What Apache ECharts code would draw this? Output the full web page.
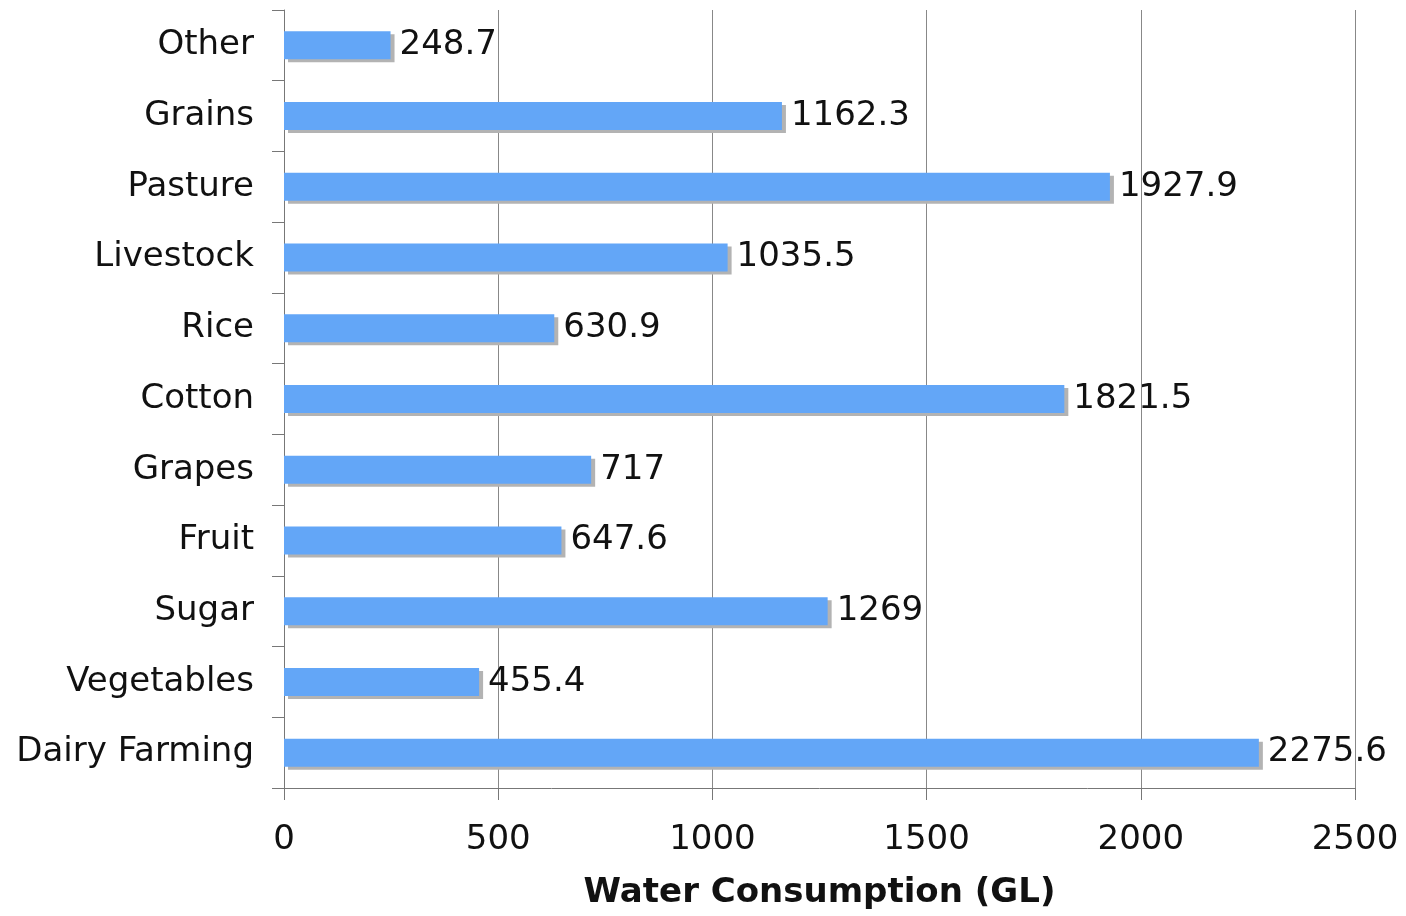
<!DOCTYPE html>
<html>
<head>
<meta charset="utf-8">
<script src="https://cdn.jsdelivr.net/npm/echarts@6/dist/echarts.min.js"></script>
<style>
  html, body { margin: 0; padding: 0; background: #fff; }
  #main { width: 1406px; height: 916px; }
</style>
</head>
<body>
<div id="main"></div>
<script>
// categories listed bottom to top (category y axis starts at the bottom)
var categories = ['Dairy Farming', 'Vegetables', 'Sugar', 'Fruit', 'Grapes', 'Cotton',
    'Rice', 'Livestock', 'Pasture', 'Grains', 'Other'];
var consumption = [2275.6, 455.4, 1269, 647.6, 717, 1821.5, 630.9, 1035.5, 1927.9, 1162.3, 248.7];
var xTicks = [0, 500, 1000, 1500, 2000, 2500];

var myChart = echarts.init(document.getElementById('main'));

var font = 'DejaVu Sans';

var option = {
    backgroundColor: '#ffffff',
    animation: false,
    grid: {
        left: 284,
        right: 51,
        top: 10,
        bottom: 128,
        containLabel: false,
        outerBoundsMode: 'none'
    },
    xAxis: {
        type: 'value',
        min: xTicks[0],
        max: xTicks[xTicks.length - 1],
        interval: 500,
        name: 'Water Consumption (GL)',
        nameLocation: 'middle',
        nameGap: 88,
        nameTextStyle: {
            fontFamily: font,
            fontSize: 34,
            fontWeight: 'bold',
            color: '#111'
        },
        axisLine: { show: true, lineStyle: { color: '#777', width: 1 } },
        axisTick: { show: true, length: 12, lineStyle: { color: '#777' } },
        axisLabel: {
            fontFamily: font,
            fontSize: 34,
            color: '#111',
            margin: 35,
            formatter: function (v) { return String(v); }
        },
        splitLine: { show: true, lineStyle: { color: '#888', width: 1 } }
    },
    yAxis: {
        type: 'category',
        data: categories,
        axisLine: { show: true, lineStyle: { color: '#777', width: 1 } },
        axisTick: { show: true, length: 12, lineStyle: { color: '#777' } },
        axisLabel: {
            fontFamily: font,
            fontSize: 34,
            color: '#111',
            margin: 30
        },
        splitLine: { show: false }
    },
    series: [{
        type: 'bar',
        data: consumption,
        barWidth: 28,
        itemStyle: {
            color: '#63a6f7',
            shadowColor: '#b3b3b3',
            shadowBlur: 0,
            shadowOffsetX: 4,
            shadowOffsetY: 3
        },
        label: {
            show: true,
            position: 'right',
            distance: 9,
            fontFamily: font,
            fontSize: 34,
            color: '#111',
            formatter: function (p) { return String(p.value); }
        }
    }]
};

myChart.setOption(option);
</script>
</body>
</html>
